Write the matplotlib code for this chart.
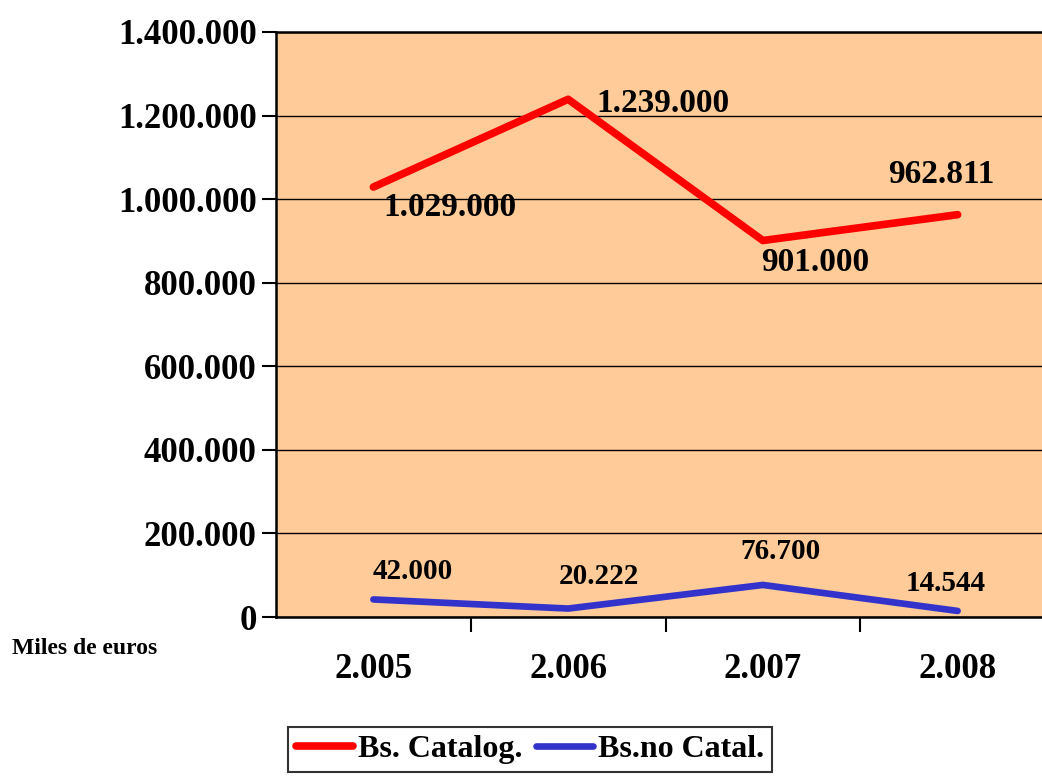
import matplotlib
matplotlib.use('Agg')

import matplotlib.pyplot as plt
from matplotlib.ticker import FuncFormatter

#chart data
years = ['2.005', '2.006', '2.007', '2.008']
catalog = [1029000, 1239000, 901000, 962811]
no_catal = [42000, 20222, 76700, 14544]
catalog_labels = ['1.029.000', '1.239.000', '901.000', '962.811']
no_catal_labels = ['42.000', '20.222', '76.700', '14.544']
y_ticks = [0, 200000, 400000, 600000, 800000, 1000000, 1200000, 1400000]

plt.rcParams['font.family'] = ['Liberation Serif', 'DejaVu Serif']
plt.rcParams['font.weight'] = 'bold'

fig = plt.figure(figsize=(10.42, 7.81), dpi=100)
ax = fig.add_axes([276/1042, 1 - 617/781, 779/1042, 585/781])
ax.set_facecolor('#FFCC99')

x = list(range(len(years)))
ax.plot(x, catalog, color='#FF0000', lw=5.5, solid_capstyle='round', label='Bs. Catalog.', zorder=3)
ax.plot(x, no_catal, color='#3333CC', lw=4.8, solid_capstyle='round', label='Bs.no Catal.', zorder=3)

ax.set_xlim(-0.5, 3.5)
ax.set_ylim(0, 1400000)
ax.set_yticks(y_ticks)
ax.yaxis.set_major_formatter(FuncFormatter(lambda v, p: '{:,.0f}'.format(v).replace(',', '.')))
ax.grid(axis='y', color='black', lw=1, zorder=1)
ax.set_axisbelow(True)

ax.set_xticks(x)
ax.set_xticklabels(years)
ax.set_xticks([0.5, 1.5, 2.5], minor=True)
ax.tick_params(axis='x', which='major', length=0, pad=26, labelsize=25)
ax.tick_params(axis='x', which='minor', length=11, width=1.5, direction='out')
ax.tick_params(axis='y', length=10, width=1.5, direction='out', labelsize=25, pad=4)

ax.spines['right'].set_visible(False)
for side in ['left', 'bottom', 'top']:
    ax.spines[side].set_linewidth(1.8)

#data labels, red series
red_offsets = [(55, -15), (68, -3), (38, -16), (-12, 29)]
for i, (lbl, off) in enumerate(zip(catalog_labels, red_offsets)):
    ax.annotate(lbl, (x[i], catalog[i]), xytext=off, textcoords='offset points',
                ha='center', va='center', fontsize=24, fontweight='bold')

#data labels, blue series
blue_offsets = [(28, 20), (22, 23), (13, 24), (-9, 20)]
for i, (lbl, off) in enumerate(zip(no_catal_labels, blue_offsets)):
    ax.annotate(lbl, (x[i], no_catal[i]), xytext=off, textcoords='offset points',
                ha='center', va='center', fontsize=21, fontweight='bold')

fig.text(12/1042, 1 - 648/781, 'Miles de euros', fontsize=17, fontweight='bold', va='center', ha='left')

leg = fig.legend(loc='upper left', bbox_to_anchor=(288/1042, 1 - 727/781), ncol=2,
                 fontsize=23, frameon=True, fancybox=False, edgecolor='black',
                 handlelength=1.8, handletextpad=0.15, columnspacing=0.4, borderpad=0.25,
                 borderaxespad=0)
leg.get_frame().set_linewidth(1.5)

fig.savefig('out.png', dpi=100)
